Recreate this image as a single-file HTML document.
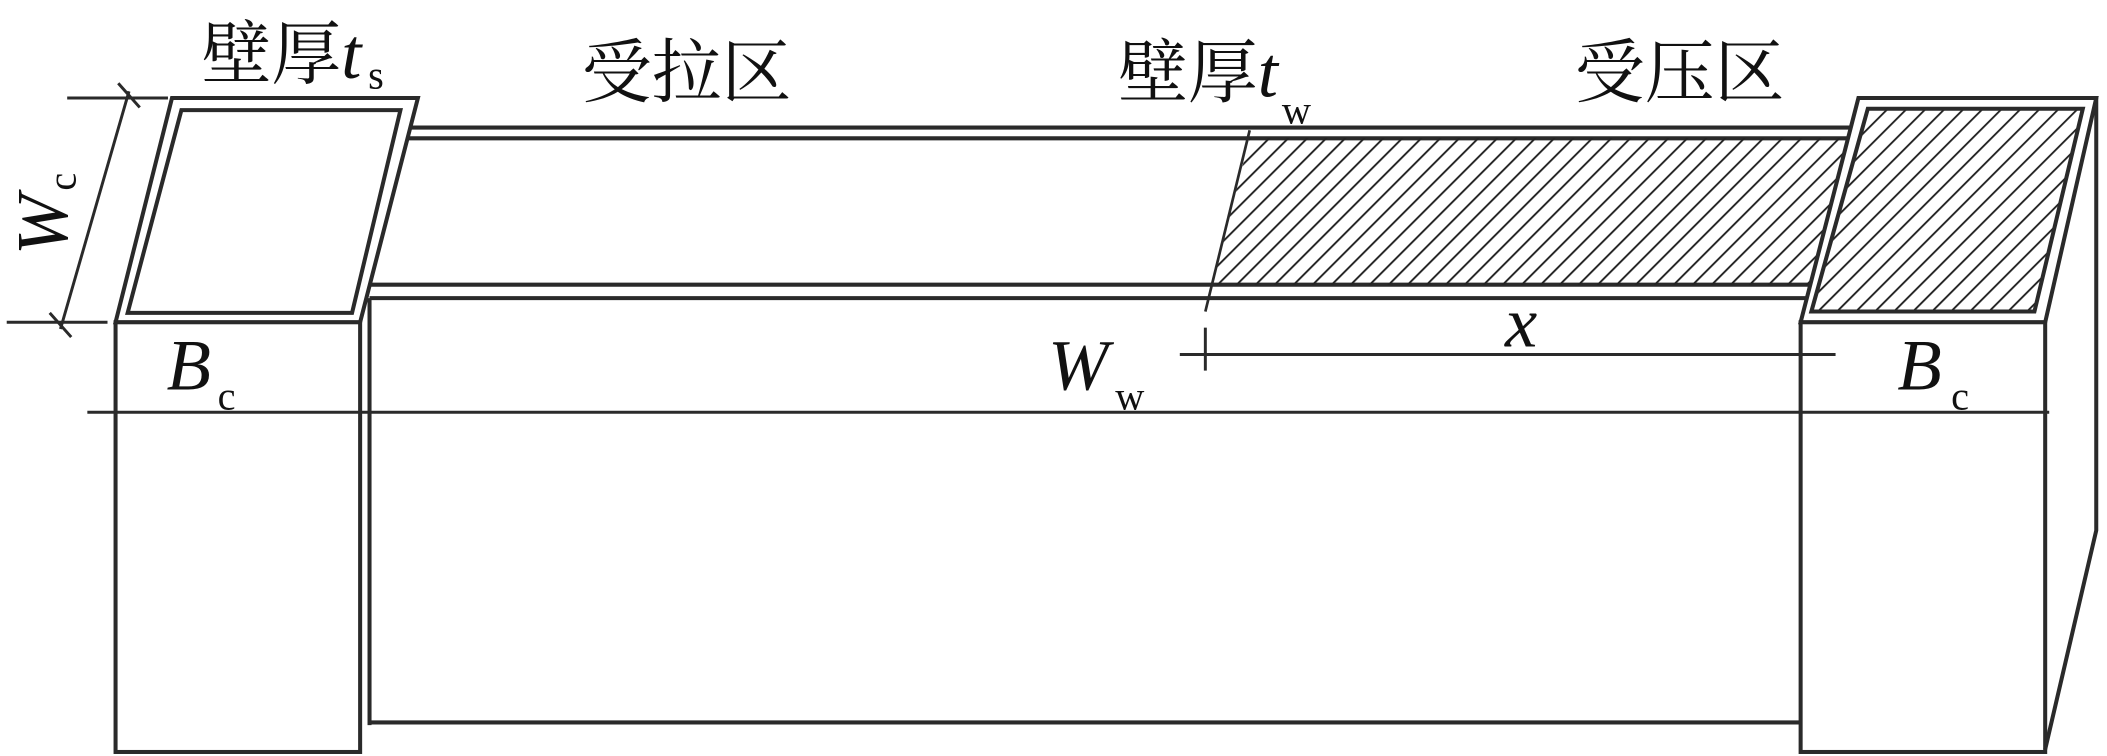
<!DOCTYPE html>
<html><head><meta charset="utf-8"><style>
html,body{margin:0;padding:0;background:#fff;width:2107px;height:756px;overflow:hidden}
svg{display:block}
text{fill:#111}
.cj{font-family:"Liberation Serif","Noto Serif CJK SC",serif;font-size:52px}
.it{font-family:"Liberation Serif",serif;font-style:italic;font-size:54px}
.sb{font-family:"Liberation Serif",serif;font-size:30px}
</style></head><body>
<svg width="2107" height="756" viewBox="0 0 1568 563" preserveAspectRatio="none" xmlns="http://www.w3.org/2000/svg">
<defs>
<pattern id="h" width="10" height="10" patternUnits="userSpaceOnUse" patternTransform="rotate(45)">
<line x1="0" y1="0" x2="0" y2="10" stroke="#222" stroke-width="2.8"/>
</pattern>
</defs>
<g fill="none" stroke="#2a2a2a" stroke-width="3">
<line x1="300" y1="95" x2="1382" y2="95"/>
<line x1="300" y1="103" x2="1378" y2="103"/>
<line x1="275" y1="212" x2="1350" y2="212"/>
<line x1="275" y1="222" x2="1345" y2="222"/>
<polygon points="930,103 1376,103 1350,212 902,212" fill="url(#h)" stroke="none"/>
<line x1="930" y1="97" x2="897" y2="232" stroke-width="2"/>
<line x1="275" y1="222" x2="275" y2="540"/>
<line x1="275" y1="538" x2="1340" y2="538"/>
<polygon points="128,73 311,73 268,240 86,240" fill="#fff"/>
<polygon points="135,82 298,82 262,233 95,233"/>
<rect x="86" y="240" width="182" height="320" fill="#fff"/>
<polygon points="1383,73 1560,73 1522,240 1340,240" fill="#fff"/>
<polygon points="1390,81 1550,81 1514,232 1348,232" fill="url(#h)"/>
<rect x="1340" y="240" width="182" height="320" fill="#fff"/>
<polyline points="1560,73 1560,395 1522,558"/>
<g stroke-width="2.2">
<line x1="50" y1="73" x2="125" y2="73"/>
<line x1="5" y1="240" x2="80" y2="240"/>
<line x1="96" y1="68" x2="45" y2="245"/>
<line x1="88" y1="62" x2="104" y2="80"/><line x1="37" y1="233" x2="53" y2="251"/>
<line x1="65" y1="307" x2="1525" y2="307"/>
<line x1="86" y1="298" x2="86" y2="316"/><line x1="268" y1="298" x2="268" y2="316"/>
<line x1="1340" y1="298" x2="1340" y2="316"/><line x1="1522" y1="298" x2="1522" y2="316"/>
<line x1="878" y1="264" x2="1366" y2="264"/>
<line x1="897" y1="244" x2="897" y2="276"/>
<line x1="1340" y1="254" x2="1340" y2="274"/>
</g>
</g>
<text class="cj" x="150" y="58">壁厚</text><text class="it" x="254" y="58">t</text><text class="sb" x="274" y="66">s</text>
<text class="cj" x="433" y="72">受拉区</text>
<text class="cj" x="832" y="72">壁厚</text><text class="it" x="936" y="72">t</text><text class="sb" x="954" y="92">w</text>
<text class="cj" x="1172" y="72">受压区</text>
<text class="it" x="124" y="290">B</text><text class="sb" x="162" y="305">c</text>
<text class="it" x="1412" y="290">B</text><text class="sb" x="1452" y="305">c</text>
<text class="it" x="780" y="290">W</text><text class="sb" x="830" y="305">w</text>
<text class="it" x="1120" y="258">x</text>
<g transform="translate(50,190) rotate(-90)"><text class="it" x="0" y="0">W</text><text class="sb" x="48" y="6">c</text></g>
</svg>
</body></html>
